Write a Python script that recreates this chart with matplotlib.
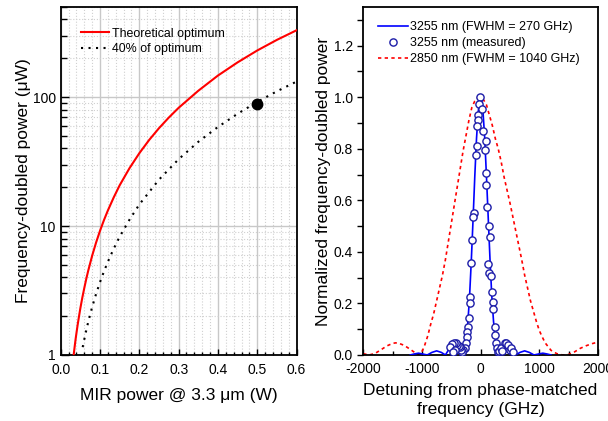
import matplotlib
matplotlib.use('Agg')
import matplotlib.pyplot as plt
from matplotlib.ticker import MultipleLocator, LogLocator, NullFormatter, FixedLocator

plt.rcParams['font.family'] = ['Liberation Sans', 'DejaVu Sans']
plt.rcParams['axes.unicode_minus'] = False

# left panel: SH power vs MIR power
opt_x = [0.033, 0.034, 0.036, 0.038, 0.04, 0.043, 0.046, 0.05, 0.055, 0.06, 0.065, 0.07,
         0.08, 0.09, 0.1, 0.11, 0.12, 0.135, 0.15, 0.175, 0.2, 0.225, 0.25, 0.275, 0.3,
         0.35, 0.4, 0.45, 0.5, 0.55, 0.6]
opt_y = [1.0, 1.06, 1.19, 1.33, 1.47, 1.70, 1.94, 2.30, 2.78, 3.30, 3.88, 4.50,
         5.88, 7.44, 9.18, 11.1, 13.2, 16.7, 20.7, 28.1, 36.7, 46.5, 57.4, 69.4, 82.6,
         112, 147, 186, 230, 278, 330]
pct40_x = [0.056, 0.06, 0.065, 0.07, 0.075, 0.08, 0.09, 0.1, 0.11, 0.12, 0.135, 0.15,
           0.175, 0.2, 0.25, 0.3, 0.35, 0.4, 0.45, 0.5, 0.55, 0.6]
pct40_y = [1.15, 1.32, 1.55, 1.80, 2.06, 2.35, 2.97, 3.67, 4.44, 5.28, 6.69, 8.26,
           11.2, 14.7, 22.9, 33.0, 45.0, 58.7, 74.3, 91.8, 111, 132]
meas_pt_x = [0.5]
meas_pt_y = [88]

# right panel: phase-matching curves (GHz, normalized)
red_x = [-2000, -1900, -1800, -1700, -1600, -1500, -1450, -1400, -1300, -1200, -1100, -1050,
         -1000, -950, -900, -850, -800, -750, -700, -650, -600, -550, -500, -450, -400, -350,
         -300, -250, -200, -150, -100, -50, 0, 50, 100, 150, 200, 250, 300, 350, 400, 450,
         500, 550, 600, 650, 700, 750, 800, 850, 900, 950, 1000, 1050, 1100, 1200, 1300,
         1400, 1450, 1500, 1600, 1700, 1800, 1900, 2000]
red_y = [0.005, 0.0, 0.006, 0.02, 0.035, 0.045, 0.047, 0.046, 0.037, 0.022, 0.006, 0.0,
         0.012, 0.04, 0.075, 0.12, 0.16, 0.21, 0.26, 0.31, 0.37, 0.44, 0.51, 0.58, 0.65, 0.72,
         0.79, 0.85, 0.91, 0.96, 0.985, 0.998, 1.0, 0.99, 0.97, 0.93, 0.89, 0.84, 0.80, 0.75,
         0.69, 0.64, 0.59, 0.535, 0.48, 0.425, 0.37, 0.31, 0.26, 0.21, 0.17, 0.13, 0.095,
         0.07, 0.047, 0.018, 0.005, 0.0, 0.0, 0.002, 0.012, 0.026, 0.036, 0.044, 0.05]

blue_x = [-1200, -1130, -1060, -990, -910, -830, -750, -670, -600, -520, -440, -370, -300,
          -260, -220, -190, -160, -130, -100, -70, -40, -20, 0, 20, 40, 70, 100, 130, 160,
          190, 220, 260, 300, 370, 440, 520, 600, 670, 750, 830, 910, 990, 1060, 1130, 1200]
blue_y = [0.0, 0.004, 0.007, 0.004, 0.0, 0.01, 0.016, 0.01, 0.0, 0.03, 0.047, 0.025, 0.0,
          0.04, 0.12, 0.22, 0.36, 0.52, 0.69, 0.84, 0.945, 0.986, 1.0, 0.986, 0.945, 0.84,
          0.69, 0.53, 0.37, 0.23, 0.13, 0.045, 0.0, 0.025, 0.047, 0.03, 0.0, 0.01, 0.016,
          0.01, 0.0, 0.004, 0.007, 0.004, 0.0]

circ_x = [-12, -29, -41, -52, -63, -58, -80, -115, -132, -155, -172, -183, -189, -200, -212,
          -229, -240, -257, -269, -300, -315, -330, -345, -372, -400, -428, -457, -486, -514,
          -440, -470,
          28, 45, 74, 86, 92, 96, 103, 150, 162, 133, 150, 179, 196, 208, 219, 237, 249, 266,
          284, 296, 315, 353, 372, 410, 430, 470, 500, 515, 557]
circ_y = [1.0, 0.975, 0.93, 0.91, 0.89, 0.812, 0.776, 0.549, 0.536, 0.446, 0.358, 0.226, 0.2,
          0.142, 0.11, 0.09, 0.071, 0.045, 0.026, 0.018, 0.01, 0.02, 0.03, 0.036, 0.04, 0.045,
          0.047, 0.043, 0.03, 0.02, 0.012,
          0.953, 0.869, 0.795, 0.83, 0.659, 0.707, 0.575, 0.5, 0.456, 0.353, 0.317, 0.306,
          0.245, 0.207, 0.177, 0.11, 0.078, 0.045, 0.026, 0.013, 0.016, 0.026, 0.017, 0.045,
          0.048, 0.039, 0.019, 0.026, 0.013]

fig = plt.figure(figsize=(6.08, 4.21), dpi=100)
ax1 = fig.add_axes([0.0998, 0.1568, 0.388, 0.8266])
ax2 = fig.add_axes([0.5975, 0.1568, 0.386, 0.8266])

# ---- left
ax1.set_yscale('log')
ax1.plot(opt_x, opt_y, color='#ff0000', lw=1.5, label='Theoretical optimum', zorder=3)
ax1.plot(pct40_x, pct40_y, color='black', lw=1.5, linestyle=(0, (1, 2.6)),
         label='40% of optimum', zorder=3)
ax1.plot(meas_pt_x, meas_pt_y, 'o', color='black', ms=7.5, zorder=4)
ax1.set_xlim(0, 0.6)
ax1.set_ylim(1, 500)
ax1.xaxis.set_major_locator(MultipleLocator(0.1))
ax1.xaxis.set_minor_locator(MultipleLocator(0.02))
ax1.yaxis.set_major_locator(FixedLocator([1, 10, 100]))
ax1.yaxis.set_minor_locator(LogLocator(base=10, subs=range(2, 10)))
ax1.yaxis.set_minor_formatter(NullFormatter())
ax1.set_yticklabels(['1', '10', '100'])
ax1.grid(which='major', color='#c8c8c8', lw=1.0, ls='-')
ax1.grid(which='minor', color='#d0d0d0', lw=0.8, ls=':')
ax1.set_axisbelow(True)
ax1.tick_params(axis='both', which='both', direction='in', right=False, top=False,
                labelsize=10, width=1, color='black')
ax1.tick_params(axis='x', which='major', length=4, pad=6)
ax1.tick_params(axis='x', which='minor', length=2.5)
ax1.tick_params(axis='y', which='major', length=6)
ax1.tick_params(axis='y', which='minor', length=4)
for s in ax1.spines.values():
    s.set_linewidth(1.3)
ax1.set_xlabel('MIR power @ 3.3 μm (W)', fontsize=12.5, labelpad=8)
ax1.set_ylabel('Frequency-doubled power (μW)', fontsize=12.5, labelpad=1)
ax1.legend(loc='upper left', frameon=False, fontsize=8.9, handlelength=2.2,
           borderaxespad=0.0, labelspacing=0.28, handletextpad=0.3,
           bbox_to_anchor=(0.067, 0.955))

# ---- right
ax2.plot(blue_x, blue_y, color='#0000ff', lw=1.2, label='3255 nm (FWHM = 270 GHz)', zorder=3)
ax2.plot(circ_x, circ_y, 'o', ms=5.2, mfc='white', mec='#1c1ca8', mew=1.0, ls='none',
         label='3255 nm (measured)', zorder=4)
ax2.plot(red_x, red_y, color='#ff0000', lw=1.2, linestyle=(0, (2, 2)),
         label='2850 nm (FWHM = 1040 GHz)', zorder=2)
ax2.set_xlim(-2000, 2000)
ax2.set_ylim(0, 1.35)
ax2.xaxis.set_major_locator(MultipleLocator(1000))
ax2.xaxis.set_minor_locator(MultipleLocator(500))
ax2.yaxis.set_major_locator(FixedLocator([0.0, 0.2, 0.4, 0.6, 0.8, 1.0, 1.2]))
ax2.yaxis.set_minor_locator(MultipleLocator(0.1))
ax2.set_yticklabels(['0.0', '0.2', '0.4', '0.6', '0.8', '1.0', '1.2'])
ax2.tick_params(axis='y', which='both', direction='out', length=4, width=1,
                right=False, labelsize=10)
ax2.tick_params(axis='x', which='both', direction='in', top=False, labelsize=10, width=1)
ax2.tick_params(axis='x', which='major', length=4, pad=5)
ax2.tick_params(axis='x', which='minor', length=3)
for s in ax2.spines.values():
    s.set_linewidth(1.3)
ax2.set_xlabel('Detuning from phase-matched\nfrequency (GHz)', fontsize=12.5,
               labelpad=5, linespacing=1.35)
ax2.set_ylabel('Normalized frequency-doubled power', fontsize=12.5, labelpad=2)
ax2.legend(loc='upper left', frameon=False, fontsize=9.0, handlelength=2.4,
           borderaxespad=0.0, labelspacing=0.3, handletextpad=0.2,
           bbox_to_anchor=(0.04, 0.973))

fig.savefig('out.png', dpi=100)
